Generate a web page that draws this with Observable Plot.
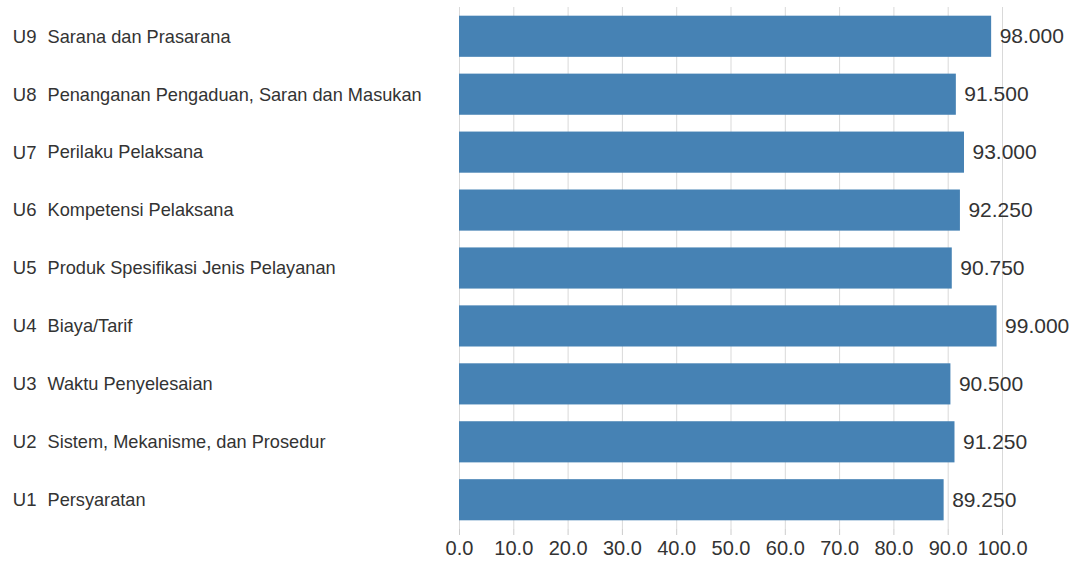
<!DOCTYPE html>
<html>
<head>
<meta charset="utf-8">
<script src="https://cdn.jsdelivr.net/npm/d3@7"></script>
<script src="https://cdn.jsdelivr.net/npm/@observablehq/plot@0.6"></script>
<style>
  body { margin: 0; background: #fff; }
  #chart svg { font-family: "Liberation Sans", Arial, sans-serif; }
</style>
</head>
<body>
<div id="chart"></div>
<script>
const codes = ["U1", "U2", "U3", "U4", "U5", "U6", "U7", "U8", "U9"];
const names = [
  "Persyaratan",
  "Sistem, Mekanisme, dan Prosedur",
  "Waktu Penyelesaian",
  "Biaya/Tarif",
  "Produk Spesifikasi Jenis Pelayanan",
  "Kompetensi Pelaksana",
  "Perilaku Pelaksana",
  "Penanganan Pengaduan, Saran dan Masukan",
  "Sarana dan Prasarana"
];
const values = [89.25, 91.25, 90.5, 99.0, 90.75, 92.25, 93.0, 91.5, 98.0];
const xTicks = [0, 10, 20, 30, 40, 50, 60, 70, 80, 90, 100];

const data = codes.map((c, i) => ({code: c, name: names[i], value: values[i]}));
const order = codes.slice().reverse();

const chart = Plot.plot({
  width: 1075,
  height: 563,
  marginLeft: 459,
  marginRight: 73,
  marginTop: 7,
  marginBottom: 34,
  style: {fontFamily: "'Liberation Sans', Arial, sans-serif", color: "#333"},
  x: {domain: [0, 100], label: null},
  y: {domain: order, paddingInner: 0.29, paddingOuter: 0.15, round: false, label: null, axis: null},
  marks: [
    Plot.gridX(xTicks, {stroke: "#d9d9d9", strokeOpacity: 1}),
    Plot.axisX(xTicks, {tickFormat: d => d.toFixed(1), fontSize: 20, tickSize: 6, stroke: "#ccc", label: null, tickPadding: 5, color: "#333"}),
    Plot.barX(data, {x: "value", y: "code", fill: "steelblue"}),
    Plot.text(data, {x: "value", y: "code", text: d => d.value.toFixed(3), textAnchor: "start", dx: 8, fontSize: 21, fill: "#333"}),
    Plot.text(data, {y: "code", text: "code", frameAnchor: "left", textAnchor: "end", dx: -423, fontSize: 18.5, fill: "#333"}),
    Plot.text(data, {y: "code", text: "name", frameAnchor: "left", textAnchor: "start", dx: -412, fontSize: 18.2, fill: "#333"})
  ]
});
document.getElementById("chart").append(chart);
</script>
</body>
</html>
